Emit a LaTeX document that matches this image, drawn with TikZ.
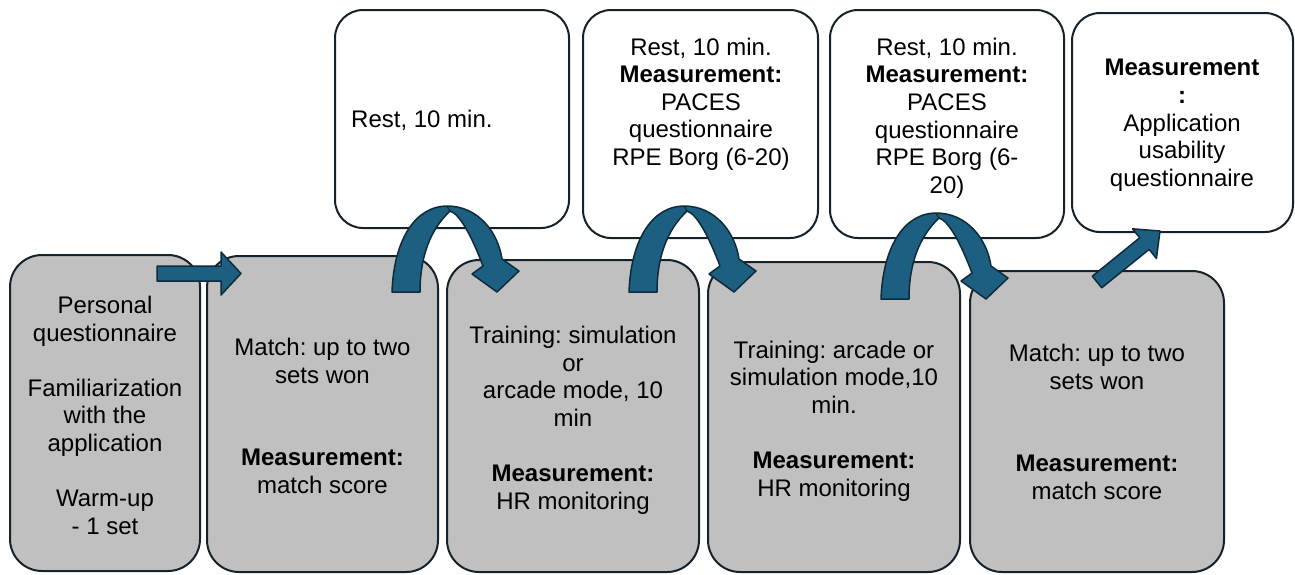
\documentclass[tikz,border=0pt]{standalone}
\usepackage{fontspec}
\setmainfont{Liberation Sans}
\usetikzlibrary{calc}
\definecolor{boxline}{HTML}{15222C}
\definecolor{gfill}{HTML}{C0C0C0}
\definecolor{arrfill}{HTML}{1D5F80}
\definecolor{arrline}{HTML}{0E2A3B}
\begin{document}
\frenchspacing
\begin{tikzpicture}[x=1pt,y=-1pt,
  gbox/.style={draw=boxline, line width=2pt, fill=gfill, rounded corners=32pt, inner sep=0pt},
  wbox/.style={draw=boxline, line width=2pt, fill=white, rounded corners=28pt, inner sep=0pt},
  txt/.style={font=\fontsize{24}{27.6}\selectfont, align=center, inner sep=0pt, text=black},
  blockarrow/.style={fill=arrfill, draw=arrline, line width=1.5pt, line join=round},
  curvarrow/.pic={
    \filldraw[blockarrow] (0,0) .. controls (2,-55) and (25,-86) .. (55,-86)
       .. controls (86,-86) and (106,-60) .. (110,-33)
       -- (127,-21) -- (105,0) -- (80,-18) -- (91,-26)
       .. controls (80,-55) and (68,-78) .. (58,-81)
       .. controls (38,-62) and (28,-35) .. (28,0) -- cycle;
    \draw[arrline, line width=1.2pt] (55,-86) -- (58,-81);
  }
]
\useasboundingbox (0,0) rectangle (1295,574);

% bottom row (grey)
\node[gbox, minimum width=190pt, minimum height=316pt] (g1) at (105,413) {};
\node[gbox, minimum width=231pt, minimum height=316pt] (g2) at (322.5,414) {};
\node[gbox, minimum width=252pt, minimum height=312pt] (g3) at (573,416) {};
\node[gbox, minimum width=252pt, minimum height=310pt] (g4) at (834,417) {};
\node[gbox, minimum width=254pt, minimum height=301pt] (g5) at (1097,421.5) {};

% top row (white)
\node[wbox, minimum width=234pt, minimum height=218pt] (w1) at (452,119) {};
\node[wbox, minimum width=235pt, minimum height=228pt] (w2) at (700.5,124) {};
\node[wbox, minimum width=234pt, minimum height=228pt] (w3) at (947,124) {};
\node[wbox, minimum width=221pt, minimum height=219pt] (w4) at (1182.5,122.5) {};

% texts
\node[txt] (t1) at (105,415.4) {Personal\\questionnaire\\[27.6pt]Familiarization\\with the\\application\\[27.6pt]Warm-up\\- 1 set};
\node[txt] (t2) at (322.5,416) {Match: up to two\\sets won\\[55.2pt]\textbf{Measurement:}\\match score};
\node[txt] (t3) at (573,420) {Training: simulation\\or\\arcade mode, 10\\min\\[27.6pt]\textbf{Measurement:}\\HR monitoring};
\node[txt] (t4) at (834,421) {Training: arcade or\\simulation mode,10\\min.\\[27.6pt]\textbf{Measurement:}\\HR monitoring};
\node[txt] (t5) at (1097,422) {Match: up to two\\sets won\\[55.2pt]\textbf{Measurement:}\\match score};
\node[txt, anchor=west] (tw1) at (351,120) {Rest, 10 min.};
\node[txt] (tw2) at (701,104) {Rest, 10 min.\\\textbf{Measurement:}\\PACES\\questionnaire\\RPE Borg (6-20)};
\node[txt] (tw3) at (947,118) {Rest, 10 min.\\\textbf{Measurement:}\\PACES\\questionnaire\\RPE Borg (6-\\20)};
\node[txt] (tw4) at (1182,125.4) {\textbf{Measurement}\\\textbf{:}\\Application\\usability\\questionnaire};

% straight arrow g1 -> g2
\begin{scope}[shift={(g1.north east)}]
  \filldraw[blockarrow] (-44,12) -- (20,12) -- (20,-2) -- (40,19.5) -- (20,41) -- (20,27) -- (-44,27) -- cycle;
\end{scope}

% curved arrows
\coordinate (ca1) at ($(g2.north east)+(-47,37)$);
\coordinate (ca2) at ($(g3.north east)+(-71,33)$);
\coordinate (ca3) at ($(g4.north east)+(-80,38)$);
\pic at (ca1) {curvarrow};
\pic at (ca2) {curvarrow};
\pic at (ca3) {curvarrow};

% diagonal arrow g5 -> w4
\begin{scope}[shift={(g5.north)}]
  \filldraw[blockarrow] (4.7,17.8) -- (52.1,-20.6) -- (59.4,-11.6) -- (63,-39) -- (35.4,-41.2) -- (42.7,-32.2) -- (-4.7,6.2) -- cycle;
\end{scope}
\end{tikzpicture}
\end{document}
